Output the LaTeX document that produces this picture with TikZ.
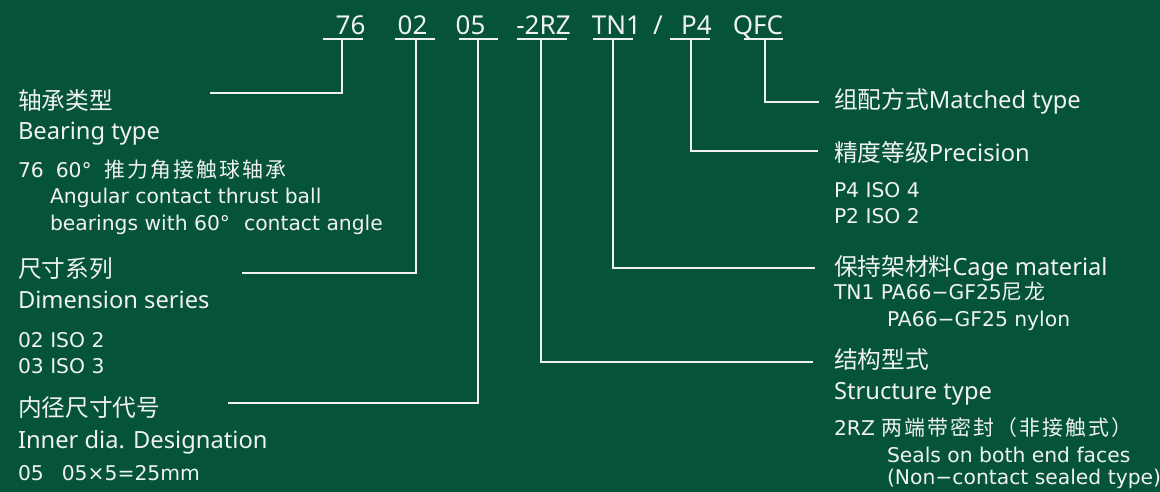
\documentclass[tikz,border=0pt]{standalone}
\usepackage{fontspec}
\setmainfont{Noto Sans}
\newfontfamily\descfont{DejaVu Sans}
\newfontfamily\cjk{Noto Sans CJK SC}
\newfontfamily\cjkd{Noto Sans CJK SC}[LetterSpace=10,Scale=1.03]
\definecolor{bg}{RGB}{5,83,58}
\definecolor{fg}{RGB}{240,242,240}
\begin{document}
\begin{tikzpicture}[x=1pt,y=-1pt,
  txt/.style={anchor=base west,inner sep=0pt,outer sep=0pt,text=fg},
  head/.style={txt,font=\fontsize{23.7}{23.7}\selectfont},
  desc/.style={txt,font=\fontsize{20.3}{20.3}\selectfont\descfont},
  code/.style={anchor=base,inner sep=0pt,outer sep=0pt,text=fg,font=\fontsize{26}{26}\selectfont},
  wire/.style={draw=fg,line width=1.6pt}]
\fill[bg] (0,0) rectangle (1160,492);
\useasboundingbox (0,0) rectangle (1160,492);
% codes
\node[code] (c76) at (350.5,35) {76};
\node[code] (c02) at (412.5,35) {02};
\node[code] (c05) at (470.5,35) {05};
\node[code] (c2rz) at (543.5,35) {-2RZ};
\node[code] (ctn) at (616.5,35) {TN1};
\node[code] (cs) at (658,35) {/};
\node[code] (cp4) at (696.5,35) {P4};
\node[code] (cq) at (758,35) {QFC};
% underline ends
\coordinate (u76a) at (323,39); \coordinate (u76b) at (363,39);
\coordinate (u02a) at (395,39); \coordinate (u02b) at (435,39);
\coordinate (u05a) at (459,39); \coordinate (u05b) at (498,39);
\coordinate (u2a) at (517,39); \coordinate (u2b) at (567,39);
\coordinate (uta) at (593,39); \coordinate (utb) at (633,39);
\coordinate (upa) at (670,39); \coordinate (upb) at (710,39);
\coordinate (uqa) at (744,39); \coordinate (uqb) at (783,39);
% stems
\coordinate (k76) at (342,39); \coordinate (e76) at (210,93);
\coordinate (k02) at (416,39); \coordinate (e02) at (242,273);
\coordinate (k05) at (478,39); \coordinate (e05) at (228,403);
\coordinate (k2) at (541,39); \coordinate (e2) at (813,362);
\coordinate (kt) at (613,39); \coordinate (et) at (815,268);
\coordinate (kp) at (691,39); \coordinate (ep) at (818,151);
\coordinate (kq) at (765,39); \coordinate (eq) at (819,102);
\foreach \a/\b in {u76a/u76b,u02a/u02b,u05a/u05b,u2a/u2b,uta/utb,upa/upb,uqa/uqb}
  \draw[wire] (\a) -- (\b);
\foreach \a/\b in {k76/e76,k02/e02,k05/e05,k2/e2,kt/et,kp/ep,kq/eq}
  \draw[wire] (\a) |- (\b);
% left texts
\node[head] (h1cn) at (18,110) {\cjk 轴承类型};
\node[head] (h1en) at (18,140) {Bearing type};
\node[desc] (d1a) at (18,178) {76\hspace{12pt}60°\hspace{13pt}{\cjkd 推力角接触球轴承}};
\node[desc] (d1b) at (50,204) {Angular contact thrust ball};
\node[desc] (d1c) at (50,230) {bearings with 60°\hspace{14pt}contact angle};
\node[head] (h2cn) at (18,277) {\cjk 尺寸系列};
\node[head] (h2en) at (18,308) {Dimension series};
\node[desc] (d2a) at (18,347) {02 ISO 2};
\node[desc] (d2b) at (18,373) {03 ISO 3};
\node[head] (h3cn) at (18,416) {\cjk 内径尺寸代号};
\node[head] (h3en) at (18,448) {Inner dia. Designation};
\node[desc] (d3a) at (18,480) {05\hspace{18pt}05×5=25mm};
% right texts
\node[head] (r1) at (834,109) {{\cjk 组配方式}Matched type};
\node[head] (r2) at (834,162) {{\cjk 精度等级}Precision};
\node[desc] (r2a) at (834,197) {P4 ISO 4};
\node[desc] (r2b) at (834,223) {P2 ISO 2};
\node[head] (r3) at (834,275) {{\cjk 保持架材料}Cage material};
\node[desc] (r3a) at (834,299) {TN1 PA66−GF25{\cjkd 尼龙}};
\node[desc] (r3b) at (887,326) {PA66−GF25 nylon};
\node[head] (r4cn) at (834,368) {\cjk 结构型式};
\node[head] (r4en) at (834,399) {Structure type};
\node[desc] (r4a) at (834,435) {2RZ {\cjkd 两端带密封（非接触式）}};
\node[desc] (r4b) at (887,462) {Seals on both end faces};
\node[desc] (r4c) at (887,484) {(Non−contact sealed type)};
\end{tikzpicture}
\end{document}
